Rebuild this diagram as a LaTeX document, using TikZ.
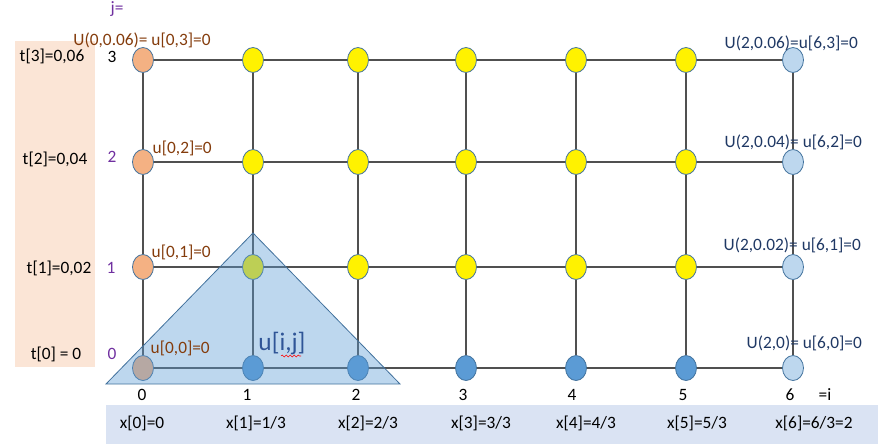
\documentclass[tikz,border=0pt]{standalone}
\usepackage{fontspec}
\setmainfont{Carlito}
\usetikzlibrary{shapes.geometric,decorations.pathmorphing}
\definecolor{peach}{HTML}{FBE5D6}
\definecolor{barblue}{HTML}{DAE3F3}
\definecolor{ptorange}{HTML}{F4B183}
\definecolor{ptblue}{HTML}{5B9BD5}
\definecolor{ptlight}{HTML}{BDD7EE}
\definecolor{ptedge}{HTML}{41719C}
\definecolor{gridgray}{HTML}{505050}
\definecolor{lblbrown}{HTML}{843C0C}
\definecolor{lblnavy}{HTML}{1F3864}
\definecolor{idxpurple}{HTML}{7030A0}
\definecolor{uijblue}{HTML}{2F5597}

\begin{document}
\begin{tikzpicture}[x=0.75pt,y=-0.75pt,font=\fontsize{13}{15}\selectfont,
  pt/.style={ellipse,draw=ptedge,line width=0.6pt,inner sep=0pt,minimum width=15.75pt,minimum height=18.75pt},
  gridline/.style={draw=gridgray,line width=0.9pt}]
  \useasboundingbox (0,0) rectangle (878,444);
  \fill[peach] (15,41) rectangle (95,367);
  \fill[barblue] (106,405) rectangle (878,444);
  % grid points: n<i><j>
  \foreach \j/\y in {0/368,1/267,2/162,3/60} \node[pt,fill=ptorange] (n0\j) at (143,\y) {};
  \foreach \i/\x in {1/253,2/358,3/466,4/576,5/686} {
    \node[pt,fill=ptblue] (n\i0) at (\x,368) {};
    \foreach \j/\y in {1/267,2/162,3/60} \node[pt,fill=yellow] (n\i\j) at (\x,\y) {};
  }
  \foreach \j/\y in {0/368,1/267,2/162,3/60} \node[pt,fill=ptlight] (n6\j) at (793,\y) {};
  \foreach \j in {0,...,3}
    \foreach \i/\k in {0/1,1/2,2/3,3/4,4/5,5/6} \draw[gridline] (n\i\j) -- (n\k\j);
  \foreach \i in {0,...,6}
    \foreach \j/\k in {0/1,1/2,2/3} \draw[gridline] (n\i\j) -- (n\i\k);
  % stencil triangle
  \filldraw[fill=ptblue,fill opacity=0.4,draw=ptedge,line width=0.6pt] (253,233) -- (106,384) -- (400,384) -- cycle;
  \node[uijblue,font=\fontsize{19}{22}\selectfont] (uij) at (282,344) {u[i,j]};
  \draw[red,line width=0.4pt,decorate,decoration={snake,amplitude=0.7pt,segment length=3pt}] (281,356) -- (301,356);
  % time levels
  \node (t3) at (52,56) {t[3]=0,06};
  \node (t2) at (55,159) {t[2]=0,04};
  \node (t1) at (59,268) {t[1]=0,02};
  \node (t0) at (56,354) {t[0] = 0};
  \node[idxpurple] (jeq) at (117,9) {j=};
  \node (j3) at (112,57) {3};
  \node[idxpurple] (j2) at (112,157) {2};
  \node[idxpurple] (j1) at (111,268) {1};
  \node[idxpurple] (j0) at (112,354) {0};
  % space points
  \foreach \i/\x/\xl/\txt in {0/142/142/{x[0]=0},1/247/256/{x[1]=1/3},2/356/368/{x[2]=2/3},3/463/481/{x[3]=3/3},
      4/572/586/{x[4]=4/3},5/683/697/{x[5]=5/3},6/790/814/{x[6]=6/3=2}} {
    \node (i\i) at (\x,395) {\i};
    \node (x\i) at (\xl,423) {\txt};
  }
  \node (ieq) at (825,395) {=i};
  % boundary values
  \node[lblbrown] (b03) at (142,40) {U(0,0.06)= u[0,3]=0};
  \node[lblbrown,anchor=west] (b02) at (148,148) {u[0,2]=0};
  \node[lblbrown,anchor=west] (b01) at (147,252) {u[0,1]=0};
  \node[lblbrown,anchor=west] (b00) at (146,348) {u[0,0]=0};
  \node[lblnavy,anchor=west] (b63) at (720,43) {U(2,0.06)=u[6,3]=0};
  \node[lblnavy,anchor=west] (b62) at (720,142) {U(2,0.04)= u[6,2]=0};
  \node[lblnavy,anchor=west] (b61) at (719,245) {U(2,0.02)= u[6,1]=0};
  \node[lblnavy,anchor=west] (b60) at (742,343) {U(2,0)= u[6,0]=0};
\end{tikzpicture}
\end{document}
